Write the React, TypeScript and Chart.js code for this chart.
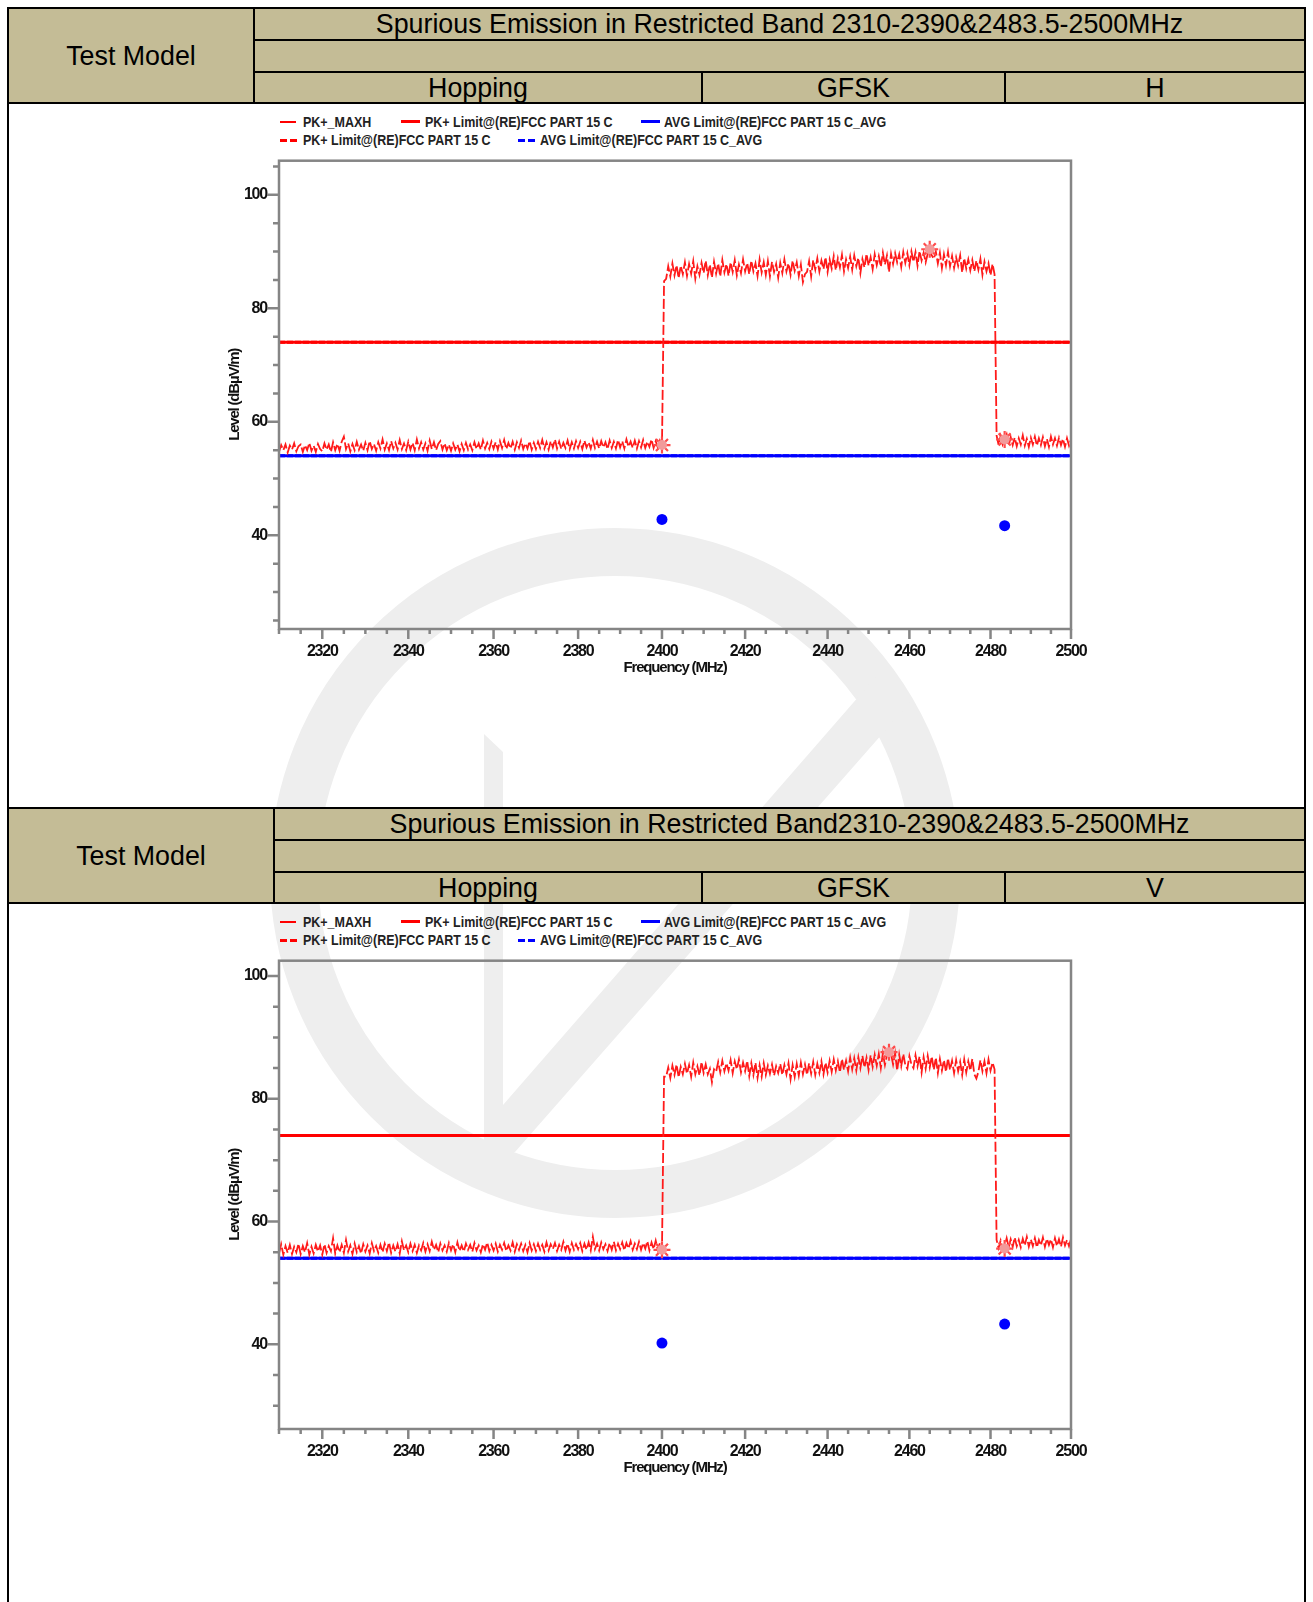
import React, { useEffect, useRef } from 'react';
import { Chart, registerables } from 'chart.js';

Chart.register(...registerables);

// ---------------- data ----------------
const FREQ_START = 2310; // MHz, first sweep point
const FREQ_STEP = 0.5; // MHz between sweep points

// Horizontal polarisation, PK+_MAXH trace (2310 ... 2500 MHz, 0.5 MHz steps)
const H_TRACE = [
  // 2310 - 2399.5
  54.7, 55.9, 55.0, 56.0, 54.6, 55.8, 55.1, 56.2, 54.8, 55.7,
  56.0, 54.7, 55.9, 55.0, 56.3, 54.9, 55.8, 54.7, 56.1, 55.2,
  54.8, 56.2, 55.1, 56.0, 54.7, 56.4, 55.0, 56.1, 54.9, 56.5,
  57.4, 55.2, 56.2, 54.8, 56.1, 55.0, 56.5, 55.1, 56.0, 54.9,
  56.3, 55.0, 56.6, 55.2, 56.1, 54.9, 56.4, 55.3, 56.9, 55.1,
  56.2, 55.0, 56.6, 55.3, 56.3, 55.1, 56.8, 55.2, 56.2, 55.0,
  56.5, 55.1, 56.3, 55.0, 56.9, 55.3, 56.4, 55.1, 56.2, 54.9,
  56.7, 55.2, 56.4, 55.0, 56.1, 56.6, 55.1, 56.2, 55.0, 56.0,
  54.9, 56.2, 55.1, 56.0, 54.8, 56.1, 55.0, 56.3, 55.1, 56.0,
  55.0, 56.4, 55.2, 56.2, 55.1, 56.7, 55.3, 56.3, 55.2, 56.5,
  55.3, 56.4, 55.1, 56.6, 55.4, 56.8, 55.2, 56.3, 55.3, 56.5,
  55.1, 56.4, 55.4, 56.7, 55.2, 56.2, 55.3, 56.6, 55.1, 56.3,
  55.2, 56.5, 55.4, 56.8, 55.3, 56.4, 55.1, 56.6, 55.5, 56.9,
  55.3, 56.5, 55.2, 56.3, 55.4, 56.7, 55.2, 56.4, 55.3, 56.6,
  55.4, 56.5, 55.2, 56.7, 55.5, 56.4, 55.3, 56.8, 55.4, 56.5,
  55.3, 56.6, 55.5, 56.4, 55.2, 56.7, 55.4, 56.5, 55.3, 56.8,
  55.5, 56.6, 55.3, 56.9, 55.6, 56.5, 55.4, 56.7, 55.3, 56.6,
  55.5, 56.8, 55.4, 56.5, 55.6, 56.9, 55.4, 56.6, 55.5, 56.7,
  // 2400
  55.9,
  // 2400.5
  84.8,
  // 2401 - 2480.5
  85.2, 87.4, 85.6, 87.9, 85.8, 87.6, 85.3, 87.5, 86.0, 88.1,
  85.7, 87.8, 86.1, 88.3, 85.2, 87.4, 85.9, 88.0, 86.2, 88.4,
  85.8, 87.7, 85.4, 88.2, 86.1, 87.9, 85.6, 88.5, 86.3, 87.8,
  85.7, 88.1, 86.4, 88.5, 85.8, 87.7, 86.2, 88.6, 86.5, 88.0,
  86.0, 88.4, 86.5, 87.9, 85.7, 88.6, 86.3, 88.1, 85.9, 88.3,
  85.6, 88.2, 86.4, 87.8, 85.4, 88.0, 86.2, 88.6, 86.5, 87.9,
  85.9, 88.4, 86.6, 88.1, 85.7, 87.7, 84.6, 86.0, 86.4, 88.3,
  85.6, 88.5, 86.8, 88.8, 86.5, 88.4, 86.9, 89.0, 86.4, 88.6,
  87.0, 89.2, 86.7, 88.8, 87.2, 89.4, 86.5, 88.6, 87.1, 89.1,
  86.8, 89.3, 87.4, 88.9, 86.2, 88.7, 87.2, 89.6, 87.5, 89.0,
  86.9, 89.5, 87.6, 89.2, 87.3, 89.8, 87.7, 89.3, 86.4, 89.6,
  87.8, 89.7, 88.1, 89.5, 87.3, 89.9, 88.0, 89.7, 87.6, 90.0,
  88.2, 89.9, 87.5, 90.1, 88.4, 89.8, 88.1, 89.6, 90.4, 89.3,
  88.7, 90.0, 87.9, 89.8, 87.1, 89.5, 87.6, 89.9, 87.4, 89.2,
  87.1, 89.0, 87.5, 89.3, 86.3, 88.8, 87.0, 88.6, 86.7, 88.5,
  86.5, 88.4, 86.8, 88.7, 85.9, 88.2, 86.5, 87.9, 85.8, 87.8,
  // 2481
  86.0,
  // 2481.5 - 2500
  57.6, 55.9, 57.5, 56.0, 56.9, 57.8, 55.8, 57.3, 55.9, 57.2,
  55.7, 57.1, 56.0, 57.6, 55.8, 57.0, 55.6, 57.2, 56.0, 57.4,
  55.8, 57.1, 55.9, 57.3, 55.7, 57.0, 55.6, 57.4, 56.0, 57.1,
  55.8, 57.2, 55.9, 57.0, 55.6, 57.1, 55.8, 56.9,
];

// Vertical polarisation, PK+_MAXH trace (2310 ... 2500 MHz, 0.5 MHz steps)
const V_TRACE = [
  // 2310 - 2399.5
  54.8, 56.3, 54.6, 56.0, 54.9, 56.2, 54.7, 55.9, 55.0, 56.4,
  54.7, 56.0, 55.0, 56.5, 54.6, 55.9, 54.8, 56.2, 55.1, 56.1,
  54.6, 56.3, 54.9, 56.0, 55.2, 57.3, 54.8, 56.1, 55.0, 56.2,
  54.9, 57.0, 55.1, 56.1, 54.7, 56.4, 55.0, 56.0, 54.8, 56.3,
  55.1, 56.1, 54.8, 56.5, 55.2, 56.0, 54.9, 56.2, 55.0, 56.4,
  55.2, 56.6, 54.9, 56.1, 55.1, 56.3, 54.8, 56.8, 55.3, 56.1,
  55.0, 56.4, 55.2, 56.2, 54.9, 56.1, 55.3, 56.5, 55.1, 56.3,
  55.2, 56.7, 55.4, 56.2, 55.0, 56.4, 55.3, 56.1, 55.1, 56.5,
  55.3, 56.3, 55.0, 56.6, 55.2, 56.1, 55.1, 56.4, 55.4, 56.2,
  55.1, 56.5, 55.3, 56.1, 55.0, 56.3, 55.4, 56.6, 55.2, 56.2,
  55.3, 56.4, 55.1, 56.2, 55.4, 56.5, 55.2, 56.1, 55.3, 56.6,
  55.1, 56.3, 55.4, 56.4, 55.2, 56.2, 55.0, 56.5, 55.3, 56.3,
  55.2, 56.4, 55.4, 56.2, 55.1, 56.6, 55.3, 56.3, 55.5, 56.5,
  55.2, 56.2, 55.4, 56.7, 55.3, 56.4, 55.1, 56.5, 55.4, 56.3,
  55.5, 56.5, 55.2, 56.4, 55.4, 56.6, 55.3, 57.5, 55.5, 56.4,
  55.3, 56.6, 55.5, 56.3, 55.2, 56.5, 55.4, 56.7, 55.3, 56.4,
  55.5, 56.6, 55.3, 56.5, 55.6, 56.8, 55.4, 56.4, 55.5, 56.7,
  55.4, 56.5, 55.6, 56.8, 55.3, 56.6, 55.5, 56.9, 55.4, 56.5,
  // 2400
  55.4,
  // 2400.5
  83.6,
  // 2401 - 2480.5
  83.6, 85.1, 83.4, 85.4, 83.9, 85.6, 83.5, 85.2, 84.0, 85.7,
  84.1, 85.5, 83.6, 85.9, 84.0, 85.3, 83.8, 86.0, 84.2, 85.6,
  84.0, 84.9, 82.7, 84.8, 84.4, 86.0, 84.3, 86.2, 84.5, 85.8,
  84.6, 86.3, 84.2, 86.1, 84.8, 86.4, 84.3, 85.9, 84.5, 86.2,
  83.7, 85.8, 83.9, 85.9, 83.4, 85.5, 83.6, 85.8, 83.9, 85.4,
  84.1, 85.6, 83.8, 85.3, 84.2, 85.7, 83.9, 85.5, 84.0, 85.8,
  83.2, 85.5, 83.6, 85.7, 83.8, 85.9, 84.0, 85.6, 83.9, 85.8,
  84.1, 86.0, 83.9, 85.7, 84.2, 86.1, 84.0, 85.9, 84.3, 86.2,
  84.4, 86.4, 84.6, 86.1, 84.3, 86.5, 84.7, 86.2, 84.5, 86.7,
  84.8, 86.6, 84.6, 86.8, 85.0, 87.0, 85.1, 86.7, 84.7, 87.1,
  85.2, 87.2, 85.4, 87.3, 85.0, 87.4, 85.5, 87.1, 87.6, 87.3,
  85.6, 87.4, 84.6, 87.2, 85.3, 87.3, 85.5, 84.9, 87.0, 85.6,
  85.0, 87.1, 85.3, 86.9, 84.3, 86.8, 84.9, 87.0, 85.1, 86.9,
  84.7, 86.7, 84.2, 86.5, 84.6, 86.3, 84.4, 86.6, 84.7, 86.2,
  84.2, 86.3, 84.5, 86.0, 83.9, 86.4, 84.3, 86.1, 84.6, 86.5,
  84.0, 83.3, 84.4, 86.3, 84.5, 86.1, 84.2, 86.4, 84.6, 85.9,
  // 2481
  84.8,
  // 2481.5 - 2500
  57.0, 55.7, 56.9, 55.6, 56.0, 57.3, 55.8, 57.1, 55.9, 57.4,
  56.0, 57.0, 55.8, 57.2, 56.1, 57.5, 55.9, 57.1, 56.0, 57.3,
  55.8, 57.0, 56.1, 57.4, 55.9, 57.2, 56.2, 57.1, 55.8, 57.3,
  56.0, 57.1, 55.9, 57.4, 56.1, 57.0, 56.0, 57.2,
];

const LIMIT_FREQS = [2310, 2500];
const PK_LIMIT = [74, 74];
const AVG_LIMIT = [54, 54];

const H_PK_MARK_FREQS = [2400, 2465, 2483.5];
const H_PK_MARK_LEVELS = [55.9, 90.4, 56.9];
const H_AVG_MARK_FREQS = [2400, 2483.5];
const H_AVG_MARK_LEVELS = [42.8, 41.7];

const V_PK_MARK_FREQS = [2400, 2455, 2483.5];
const V_PK_MARK_LEVELS = [55.4, 87.6, 55.6];
const V_AVG_MARK_FREQS = [2400, 2483.5];
const V_AVG_MARK_LEVELS = [40.2, 43.3];

const X_TICKS = [
  2310, 2315, 2320, 2325, 2330, 2335, 2340, 2345, 2350, 2355, 2360, 2365, 2370,
  2375, 2380, 2385, 2390, 2395, 2400, 2405, 2410, 2415, 2420, 2425, 2430, 2435,
  2440, 2445, 2450, 2455, 2460, 2465, 2470, 2475, 2480, 2485, 2490, 2495, 2500,
];
const X_LABELED = [2320, 2340, 2360, 2380, 2400, 2420, 2440, 2460, 2480, 2500];
const Y_TICKS_H = [25, 30, 35, 40, 45, 50, 55, 60, 65, 70, 75, 80, 85, 90, 95, 100, 105];
const Y_TICKS_V = [30, 35, 40, 45, 50, 55, 60, 65, 70, 75, 80, 85, 90, 95, 100];
const Y_LABELED = [40, 60, 80, 100];
const Y_RANGE_H = [23.5, 106];
const Y_RANGE_V = [26.2, 102.5];

const X_TITLE = 'Frequency (MHz)';
const Y_TITLE = 'Level (dBµV/m)';

const LEGEND_ROW1 = ['PK+_MAXH', 'PK+ Limit@(RE)FCC PART 15 C', 'AVG Limit@(RE)FCC PART 15 C_AVG'];
const LEGEND_ROW2 = ['PK+ Limit@(RE)FCC PART 15 C', 'AVG Limit@(RE)FCC PART 15 C_AVG'];

const TITLE_H = 'Spurious Emission in Restricted Band 2310-2390&2483.5-2500MHz';
const TITLE_V = 'Spurious Emission in Restricted Band2310-2390&2483.5-2500MHz';
const TEST_MODEL = 'Test Model';
const MODE_H = ['Hopping', 'GFSK', 'H'];
const MODE_V = ['Hopping', 'GFSK', 'V'];

// ---------------- styles ----------------
const BEIGE = '#c4bc96';
const RED = '#ff0000';
const BLUE = '#0000ff';
const AXIS_GRAY = '#858585';
const FONT = "'Liberation Sans', Arial, sans-serif";

const pts = (xs: number[], ys: number[]) => xs.map((x, i) => ({ x, y: ys[i] }));
const tracePts = (ys: number[]) => ys.map((y, i) => ({ x: FREQ_START + i * FREQ_STEP, y }));

// narrows the canvas lettering (axis numbers and titles) like the original condensed font
const condense = {
  id: 'condense',
  beforeDraw(chart: any) { (chart.ctx as any).letterSpacing = '-1.2px'; },
  afterDraw(chart: any) { (chart.ctx as any).letterSpacing = '0px'; },
};

const axisDecor = {
  id: 'axisDecor',
  afterDraw(chart: any) {
    const { ctx, chartArea: a, scales } = chart;
    ctx.save();
    ctx.strokeStyle = AXIS_GRAY;
    ctx.lineWidth = 2.5;
    ctx.strokeRect(a.left, a.top, a.right - a.left, a.bottom - a.top);
    ctx.beginPath();
    scales.y.ticks.forEach((t: any) => {
      const py = scales.y.getPixelForValue(t.value);
      const len = Y_LABELED.includes(t.value) ? 12 : 6;
      ctx.moveTo(a.left - len, py);
      ctx.lineTo(a.left, py);
    });
    scales.x.ticks.forEach((t: any) => {
      const px = scales.x.getPixelForValue(t.value);
      const len = X_LABELED.includes(t.value) ? 10 : 5;
      ctx.moveTo(px, a.bottom);
      ctx.lineTo(px, a.bottom + len);
    });
    ctx.stroke();
    ctx.restore();
  },
};

function makeConfig(trace: number[], pkF: number[], pkL: number[], avF: number[], avL: number[], yRange: number[], yTicks: number[], padTop: number) {
  return {
    type: 'line',
    data: {
      datasets: [
        { type: 'scatter', label: 'pk-mark-fill', data: pts(pkF, pkL), pointStyle: 'circle', pointRadius: 5, backgroundColor: '#f29a9a', borderWidth: 0 },
        { type: 'scatter', label: 'pk-mark', data: pts(pkF, pkL), pointStyle: 'star', pointRadius: 8.5, borderColor: '#ff4a4a', borderWidth: 2.2, backgroundColor: '#f29a9a' },
        { type: 'scatter', label: 'avg-mark', data: pts(avF, avL), pointStyle: 'circle', pointRadius: 5.5, backgroundColor: BLUE, borderWidth: 0 },
        { label: LEGEND_ROW1[0], data: tracePts(trace), borderColor: '#ff1a1a', borderWidth: 1.8, borderDash: [10, 3], pointRadius: 0, tension: 0 },
        { label: LEGEND_ROW1[1], data: pts(LIMIT_FREQS, PK_LIMIT), borderColor: RED, borderWidth: 3, pointRadius: 0 },
        { label: LEGEND_ROW2[0], data: pts(LIMIT_FREQS, PK_LIMIT), borderColor: RED, borderWidth: 3, borderDash: [6, 2], pointRadius: 0 },
        { label: LEGEND_ROW1[2], data: pts(LIMIT_FREQS, AVG_LIMIT), borderColor: BLUE, borderWidth: 3, pointRadius: 0 },
        { label: LEGEND_ROW2[1], data: pts(LIMIT_FREQS, AVG_LIMIT), borderColor: BLUE, borderWidth: 3, borderDash: [6, 2], pointRadius: 0 },
      ],
    },
    options: {
      animation: false,
      responsive: false,
      devicePixelRatio: 1,
      layout: { padding: { left: 0, top: padTop, right: 24, bottom: 0 } },
      plugins: { legend: { display: false }, tooltip: { enabled: false } },
      scales: {
        x: {
          type: 'logarithmic',
          min: 2310,
          max: 2500,
          grid: { display: false, drawTicks: false, tickLength: 0 },
          border: { display: false },
          afterBuildTicks: (s: any) => { s.ticks = X_TICKS.map((v) => ({ value: v })); },
          afterFit: (s: any) => { s.height = 51; s.paddingLeft = 0; s.paddingRight = 0; },
          ticks: {
            autoSkip: false,
            maxRotation: 0,
            minRotation: 0,
            padding: 13,
            color: '#111',
            font: { family: FONT, size: 16, weight: 'bold' },
            callback: (v: any) => (X_LABELED.includes(Number(v)) ? String(v) : ''),
          },
          title: { display: true, text: X_TITLE, color: '#111', font: { family: FONT, size: 15, weight: 'bold' }, padding: { top: 0, bottom: 3 } },
        },
        y: {
          type: 'linear',
          min: yRange[0],
          max: yRange[1],
          grid: { display: false, drawTicks: false, tickLength: 0 },
          border: { display: false },
          afterBuildTicks: (s: any) => { s.ticks = yTicks.map((v) => ({ value: v })); },
          afterFit: (s: any) => { s.width = 74; s.paddingTop = 0; s.paddingBottom = 0; },
          ticks: {
            autoSkip: false,
            padding: 12,
            color: '#111',
            font: { family: FONT, size: 16, weight: 'bold' },
            callback: (v: any) => (Y_LABELED.includes(Number(v)) ? String(v) : ''),
          },
          title: { display: true, text: Y_TITLE, color: '#111', font: { family: FONT, size: 15, weight: 'bold' }, padding: { top: 21, bottom: 0 } },
        },
      },
    },
    plugins: [condense, axisDecor],
  };
}

function ChartBox({ left, top, config }: { left: number; top: number; config: any }) {
  const ref = useRef<HTMLCanvasElement>(null);
  useEffect(() => {
    if (!ref.current) return;
    const chart = new Chart(ref.current, config);
    return () => chart.destroy();
  }, [config]);
  return (
    <div style={{ position: 'absolute', left, top, width: 890, height: 530, zIndex: 2 }}>
      <canvas ref={ref} width={890} height={530} style={{ display: 'block' }} />
    </div>
  );
}

function LegendBlock({ top }: { top: number }) {
  const text = (x: number, y: number, s: string) => (
    <div style={{ position: 'absolute', left: x, top: y - 9, height: 18, lineHeight: '18px', fontFamily: FONT, fontWeight: 'bold', fontSize: 14.5, color: '#222', whiteSpace: 'nowrap', transform: 'scaleX(0.86)', transformOrigin: 'left center' }}>{s}</div>
  );
  const solid = (x: number, y: number, w: number, h: number, c: string) => (
    <div style={{ position: 'absolute', left: x, top: y - h / 2, width: w, height: h, background: c }} />
  );
  const dashed = (x: number, y: number, c: string) => (
    <>
      {solid(x, y, 7, 3, c)}
      {solid(x + 10, y, 7, 3, c)}
    </>
  );
  const r1 = top;
  const r2 = top + 18.5;
  return (
    <div style={{ position: 'absolute', left: 0, top: 0, zIndex: 3 }}>
      {solid(280, r1, 16, 2, RED)}
      {text(303, r1, LEGEND_ROW1[0])}
      {solid(401, r1, 19, 3, RED)}
      {text(425, r1, LEGEND_ROW1[1])}
      {solid(641, r1, 19, 3, BLUE)}
      {text(664, r1, LEGEND_ROW1[2])}
      {dashed(280, r2, RED)}
      {text(303, r2, LEGEND_ROW2[0])}
      {dashed(518, r2, BLUE)}
      {text(540, r2, LEGEND_ROW2[1])}
    </div>
  );
}

function HeaderBlock({ top, leftW, title, modes }: { top: number; leftW: number; title: string; modes: string[] }) {
  const cell = (x1: number, x2: number, y1: number, y2: number, s: string) => (
    <div style={{ position: 'absolute', left: x1, top: y1, width: x2 - x1, height: y2 - y1, display: 'flex', alignItems: 'center', justifyContent: 'center', fontFamily: FONT, fontSize: 26.8, color: '#000', whiteSpace: 'nowrap' }}>{s}</div>
  );
  return (
    <div style={{ position: 'absolute', left: 0, top: 0, zIndex: 4 }}>
      <div style={{ position: 'absolute', left: 8, top, width: 1297, height: 96, background: BEIGE }} />
      {cell(8, leftW, top, top + 96, TEST_MODEL)}
      {cell(leftW, 1305, top, top + 33, title)}
      {cell(leftW, 702, top + 64, top + 97, modes[0])}
      {cell(702, 1005, top + 64, top + 97, modes[1])}
      {cell(1005, 1305, top + 64, top + 97, modes[2])}
    </div>
  );
}

function Watermark() {
  const g = '#eeeeee';
  return (
    <svg width={1313} height={1602} style={{ position: 'absolute', left: 0, top: 0, zIndex: 1 }}>
      <circle cx={615} cy={873} r={321} fill="none" stroke={g} strokeWidth={48} />
      <polygon points="484,734 503,752 503,1105 880,672 912,700 515,1152 484,1152" fill={g} />
    </svg>
  );
}

function Frame() {
  const L = (x1: number, y1: number, x2: number, y2: number) => <line x1={x1} y1={y1} x2={x2} y2={y2} stroke="#000" strokeWidth={2} />;
  return (
    <svg width={1313} height={1602} style={{ position: 'absolute', left: 0, top: 0, zIndex: 5, pointerEvents: 'none' }}>
      {L(8, 7, 8, 1602)}
      {L(1305, 7, 1305, 1602)}
      {L(7, 8, 1306, 8)}
      {L(7, 103, 1306, 103)}
      {L(254, 8, 254, 103)}
      {L(254, 40, 1305, 40)}
      {L(254, 72, 1305, 72)}
      {L(702, 72, 702, 103)}
      {L(1005, 72, 1005, 103)}
      {L(7, 808, 1306, 808)}
      {L(7, 903, 1306, 903)}
      {L(274, 808, 274, 903)}
      {L(274, 840, 1305, 840)}
      {L(274, 872, 1305, 872)}
      {L(702, 872, 702, 903)}
      {L(1005, 872, 1005, 903)}
    </svg>
  );
}

const CONFIG_H = makeConfig(H_TRACE, H_PK_MARK_FREQS, H_PK_MARK_LEVELS, H_AVG_MARK_FREQS, H_AVG_MARK_LEVELS, Y_RANGE_H, Y_TICKS_H, 7);
const CONFIG_V = makeConfig(V_TRACE, V_PK_MARK_FREQS, V_PK_MARK_LEVELS, V_AVG_MARK_FREQS, V_AVG_MARK_LEVELS, Y_RANGE_V, Y_TICKS_V, 8);

export default function App() {
  return (
    <div style={{ position: 'absolute', left: 0, top: 0, width: 1313, height: 1602, background: '#fff', overflow: 'hidden' }}>
      <Watermark />
      <HeaderBlock top={8} leftW={254} title={TITLE_H} modes={MODE_H} />
      <HeaderBlock top={808} leftW={274} title={TITLE_V} modes={MODE_V} />
      <LegendBlock top={121.5} />
      <LegendBlock top={921.5} />
      <ChartBox left={205} top={150} config={CONFIG_H} />
      <ChartBox left={205} top={950} config={CONFIG_V} />
      <Frame />
    </div>
  );
}
